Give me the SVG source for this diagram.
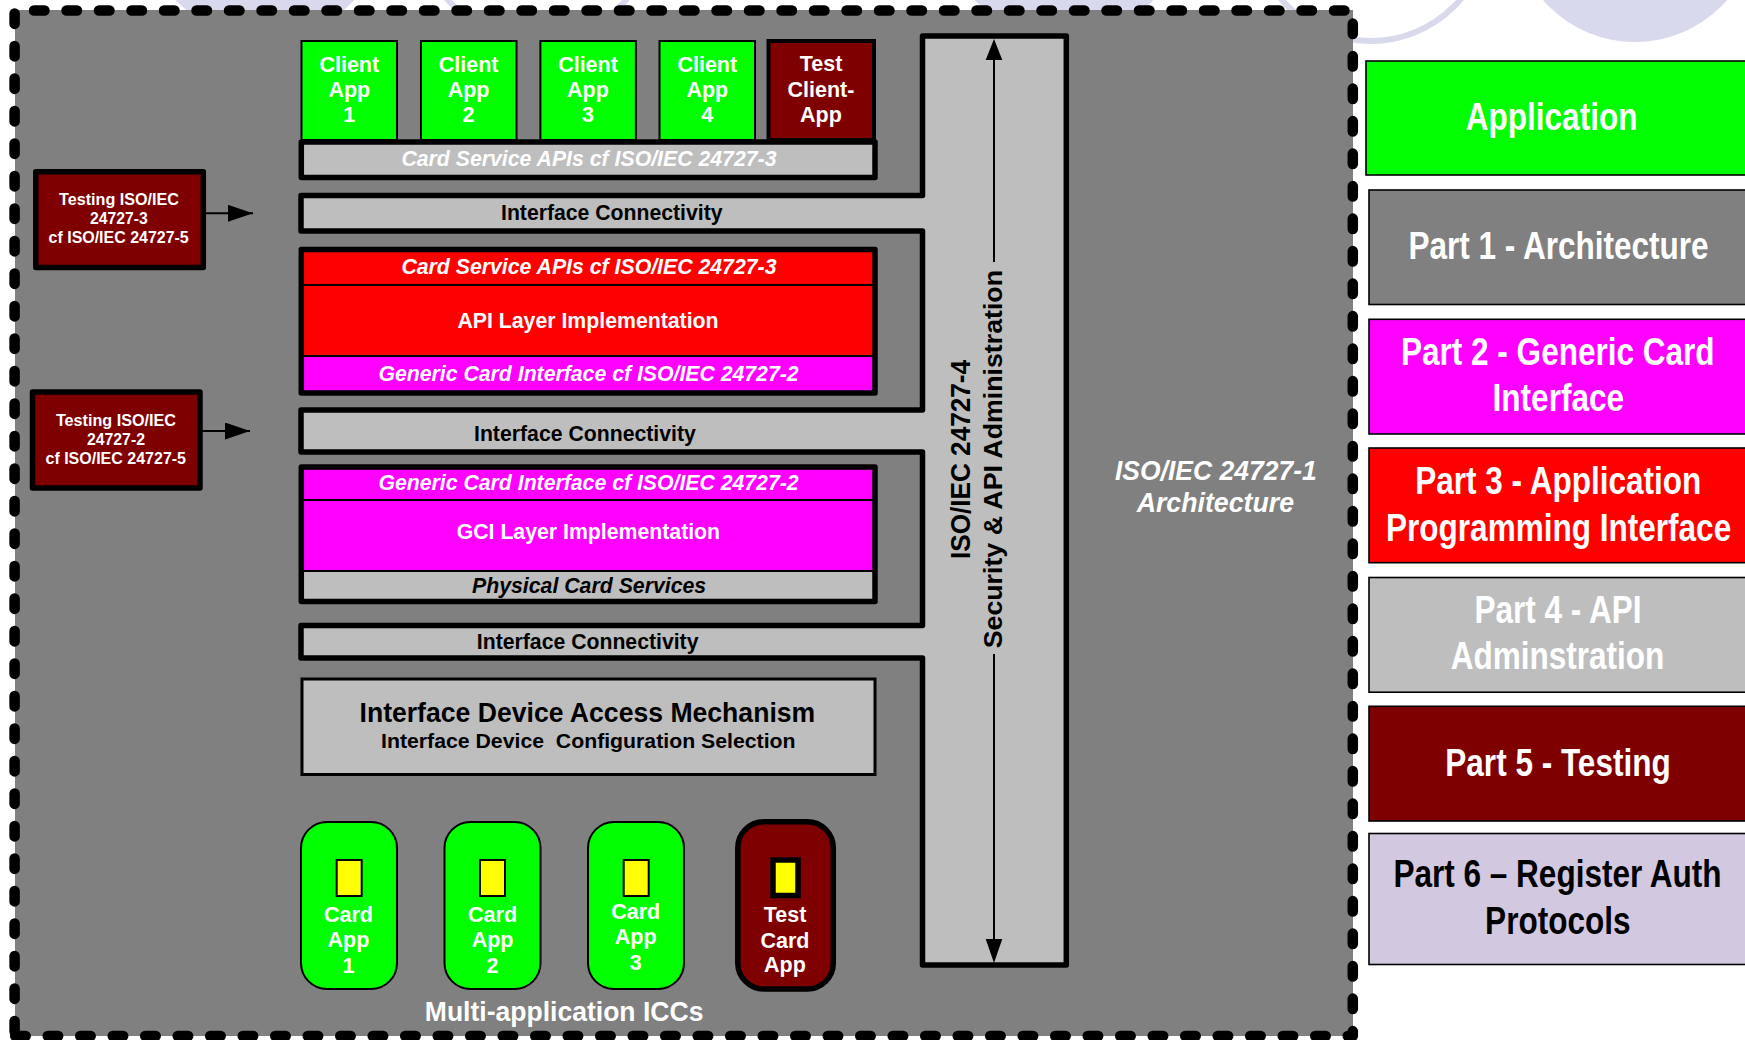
<svg xmlns="http://www.w3.org/2000/svg" width="1745" height="1040" viewBox="0 0 1745 1040">
<style>
text{font-family:"Liberation Sans",Arial,sans-serif;font-weight:bold;fill:#fff;white-space:pre}
.k{fill:#000}
.i{font-style:italic}
.m{text-anchor:middle}
.s21{font-size:21.5px}
.s16{font-size:16px}
.s38{font-size:38px}
.lav{fill:#d9d9ed;stroke:none}
.ring{fill:none;stroke:#d9d9ed;stroke-width:6}
.app{fill:#0f0;stroke:#000;stroke-width:2}
.card{fill:#0f0;stroke:#000;stroke-width:2}
.chip{fill:#ff0;stroke:#000;stroke-width:2}
.heavy{stroke:#000;stroke-width:5.5;stroke-linejoin:round}
.bar{fill:#bebebe}
.dark{fill:#7f0000}
.red{fill:#f00}
.mag{fill:#f0f}
.leg{stroke:#000;stroke-width:1.6}
.dash{fill:none;stroke:#000;stroke-width:10.5;stroke-linecap:round;stroke-dasharray:10.5 22}
.conn{stroke:#000;stroke-width:2;fill:none}
</style>
<defs>
<marker id="head" markerUnits="userSpaceOnUse" markerWidth="26" markerHeight="18" refX="25" refY="8.5" orient="auto"><path d="M0,0 L25,8.5 L0,17 Z" fill="#000"/></marker>
</defs>

<g id="background">
<circle class="lav" cx="265" cy="-83" r="122"/>
<circle class="ring" cx="537" cy="-76" r="117"/>
<circle class="lav" cx="1064" cy="-83" r="122"/>
<circle class="ring" cx="1371" cy="-76" r="117"/>
<circle class="lav" cx="1635" cy="-80" r="122"/>
</g>

<g id="architecture-frame">
<rect x="15" y="10" width="1338" height="1026" fill="#808080"/>
<path class="dash" d="M34,10.5 H1348"/>
<path class="dash" d="M14.6,13.4 V1036"/>
<path class="dash" d="M1352.8,23.6 V1036"/>
<path class="dash" d="M15.2,1036 H1352"/>
<text class="i" x="1115" y="480.3" font-size="27" textLength="201.7" lengthAdjust="spacingAndGlyphs">ISO/IEC 24727-1</text>
<text class="i" x="1136.7" y="511.7" font-size="27" textLength="157.3" lengthAdjust="spacingAndGlyphs">Architecture</text>
</g>

<g id="client-app-1"><rect class="app" x="301.5" y="41" width="95.5" height="99"/><text class="s21 m" x="349.3" y="71.7">Client</text><text class="s21 m" x="349.3" y="97.3">App</text><text class="s21 m" x="349.3" y="122.3">1</text></g>
<g id="client-app-2"><rect class="app" x="421" y="41" width="95.5" height="99"/><text class="s21 m" x="468.6" y="71.7">Client</text><text class="s21 m" x="468.6" y="97.3">App</text><text class="s21 m" x="468.6" y="122.3">2</text></g>
<g id="client-app-3"><rect class="app" x="540.4" y="41" width="95.5" height="99"/><text class="s21 m" x="588" y="71.7">Client</text><text class="s21 m" x="588" y="97.3">App</text><text class="s21 m" x="588" y="122.3">3</text></g>
<g id="client-app-4"><rect class="app" x="659.5" y="41" width="95.5" height="99"/><text class="s21 m" x="707.3" y="71.7">Client</text><text class="s21 m" x="707.3" y="97.3">App</text><text class="s21 m" x="707.3" y="122.3">4</text></g>
<g id="test-client-app"><rect class="dark" x="768.5" y="41" width="105.5" height="99" stroke="#000" stroke-width="4"/><text class="s21 m" x="821" y="71">Test</text><text class="s21 m" x="821" y="97.3">Client-</text><text class="s21 m" x="821" y="122.3">App</text></g>

<g id="card-service-bar"><rect class="bar heavy" x="301.3" y="142" width="573.7" height="35.5"/><text class="i" x="401.4" y="165.7" font-size="21.5" textLength="375.1" lengthAdjust="spacingAndGlyphs">Card Service APIs cf ISO/IEC 24727-3</text></g>

<g id="interface-connectivity">
<path class="bar heavy" d="M301,195.5 H922.5 V36 H1066.3 V965 H922.5 V658 H301 V625.5 H922.5 V452 H301 V410 H922.5 V231 H301 Z"/>
<text class="k" x="501" y="220" font-size="21.5" textLength="221.5" lengthAdjust="spacingAndGlyphs">Interface Connectivity</text>
<text class="k" x="474" y="440.7" font-size="21.5" textLength="221.8" lengthAdjust="spacingAndGlyphs">Interface Connectivity</text>
<text class="k" x="476.8" y="649.3" font-size="21.5" textLength="221.7" lengthAdjust="spacingAndGlyphs">Interface Connectivity</text>
<text class="k" transform="translate(970,559) rotate(-90)" font-size="28" textLength="199" lengthAdjust="spacingAndGlyphs">ISO/IEC 24727-4</text>
<text class="k" transform="translate(1001.7,648.3) rotate(-90)" font-size="26" textLength="378.3" lengthAdjust="spacingAndGlyphs">Security &amp; API Administration</text>
</g>

<g id="api-layer">
<rect class="red" x="301" y="249.5" width="574" height="107"/>
<rect class="mag" x="301" y="356" width="574" height="37"/>
<path d="M301,285 H875 M301,356 H875" stroke="#000" stroke-width="2" fill="none"/>
<rect x="301.3" y="249.5" width="573.7" height="143.5" fill="none" class="heavy"/>
<text class="i" x="401.4" y="274" font-size="21.5" textLength="375.1" lengthAdjust="spacingAndGlyphs">Card Service APIs cf ISO/IEC 24727-3</text>
<text x="457.4" y="328.3" font-size="21.5" textLength="261.2" lengthAdjust="spacingAndGlyphs">API Layer Implementation</text>
<text class="i" x="378.5" y="380.7" font-size="21.5" textLength="420.1" lengthAdjust="spacingAndGlyphs">Generic Card Interface cf ISO/IEC 24727-2</text>
</g>

<g id="gci-layer">
<rect class="mag" x="301" y="467" width="574" height="104"/>
<rect class="bar" x="301" y="571" width="574" height="30"/>
<path d="M301,500 H875 M301,571 H875" stroke="#000" stroke-width="2" fill="none"/>
<rect x="301.3" y="467" width="573.7" height="134.5" fill="none" class="heavy"/>
<text class="i" x="378.5" y="490" font-size="21.5" textLength="420.1" lengthAdjust="spacingAndGlyphs">Generic Card Interface cf ISO/IEC 24727-2</text>
<text x="456.7" y="539.3" font-size="21.5" textLength="263.4" lengthAdjust="spacingAndGlyphs">GCI Layer Implementation</text>
<text class="k i" x="472" y="593.3" font-size="21.5" textLength="234.2" lengthAdjust="spacingAndGlyphs">Physical Card Services</text>
</g>

<g id="interface-device">
<rect class="bar" x="302" y="679" width="573" height="95.5" stroke="#000" stroke-width="3"/>
<text class="k" x="359.5" y="721.7" font-size="27" textLength="455.7" lengthAdjust="spacingAndGlyphs">Interface Device Access Mechanism</text>
<text class="k" x="381" y="748.3" font-size="20" textLength="414.5" lengthAdjust="spacingAndGlyphs">Interface Device  Configuration Selection</text>
</g>

<g id="testing-part-3"><rect class="dark heavy" x="35.8" y="171.7" width="167.5" height="95.8"/><text class="s16" x="59" y="204.7" textLength="120" lengthAdjust="spacingAndGlyphs">Testing ISO/IEC</text><text class="s16" x="90" y="224" textLength="57.7" lengthAdjust="spacingAndGlyphs">24727-3</text><text class="s16" x="48.6" y="243" textLength="140.1" lengthAdjust="spacingAndGlyphs">cf ISO/IEC 24727-5</text></g>
<g id="testing-part-2"><rect class="dark heavy" x="32.5" y="392" width="167.5" height="96"/><text class="s16" x="55.9" y="426.3" textLength="120.1" lengthAdjust="spacingAndGlyphs">Testing ISO/IEC</text><text class="s16" x="86.9" y="445" textLength="58.1" lengthAdjust="spacingAndGlyphs">24727-2</text><text class="s16" x="45.5" y="464" textLength="140.5" lengthAdjust="spacingAndGlyphs">cf ISO/IEC 24727-5</text></g>

<g id="connectors">
<path class="conn" d="M205,213.3 H253" marker-end="url(#head)"/>
<path class="conn" d="M202,431 H250" marker-end="url(#head)"/>
<path d="M994,39 L985.7,60 H1002.3 Z M994,963 L985.7,939 H1002.3 Z" fill="#000"/>
<path class="conn" d="M994,55 V262 M994,654 V945"/>
</g>

<g id="card-app-1"><rect class="card" x="301" y="822" width="96" height="167" rx="26"/><rect class="chip" x="336.7" y="860" width="25" height="36"/><text class="s21 m" x="348.5" y="921.7">Card</text><text class="s21 m" x="348.5" y="947.2">App</text><text class="s21 m" x="348.5" y="972.7">1</text></g>
<g id="card-app-2"><rect class="card" x="444.5" y="822" width="96" height="167" rx="26"/><rect class="chip" x="480" y="860" width="25" height="36"/><text class="s21 m" x="492.6" y="921.7">Card</text><text class="s21 m" x="492.6" y="947.2">App</text><text class="s21 m" x="492.6" y="972.7">2</text></g>
<g id="card-app-3"><rect class="card" x="588" y="822" width="96" height="167" rx="26"/><rect class="chip" x="623.7" y="860" width="25" height="36"/><text class="s21 m" x="635.7" y="918.6">Card</text><text class="s21 m" x="635.7" y="944.3">App</text><text class="s21 m" x="635.7" y="969.8">3</text></g>
<g id="test-card-app"><rect class="dark heavy" x="737.8" y="821.8" width="95.5" height="167.2" rx="26"/><rect x="773" y="860" width="25" height="35.5" fill="#ff0" stroke="#000" stroke-width="5.5"/><text class="s21 m" x="785" y="921.7">Test</text><text class="s21 m" x="785" y="947.7">Card</text><text class="s21 m" x="785" y="972.2">App</text></g>
<text id="multi-app-label" x="424.8" y="1020.7" font-size="27" textLength="278.6" lengthAdjust="spacingAndGlyphs">Multi-application ICCs</text>

<g id="legend-application"><rect class="leg" x="1366" y="61" width="400" height="114" fill="#0f0"/><text class="s38 m" transform="translate(1551.6,130.3) scale(.83,1)">Application</text></g>
<g id="legend-part-1"><rect class="leg" x="1369" y="190" width="400" height="114.5" fill="#808080"/><text class="s38 m" transform="translate(1558.5,259.3) scale(.83,1)">Part 1 - Architecture</text></g>
<g id="legend-part-2"><rect class="leg" x="1369" y="319.3" width="400" height="114.7" fill="#f0f"/><text class="s38 m" transform="translate(1557.8,365.3) scale(.83,1)">Part 2 - Generic Card</text><text class="s38 m" transform="translate(1558.3,411) scale(.83,1)">Interface</text></g>
<g id="legend-part-3"><rect class="leg" x="1369" y="448" width="400" height="114.7" fill="#f00"/><text class="s38 m" transform="translate(1558.3,494.3) scale(.83,1)">Part 3 - Application</text><text class="s38 m" transform="translate(1558.6,540.7) scale(.83,1)">Programming Interface</text></g>
<g id="legend-part-4"><rect class="leg" x="1369" y="577.5" width="400" height="114.7" fill="#bebebe"/><text class="s38 m" transform="translate(1558,623.3) scale(.83,1)">Part 4 - API</text><text class="s38 m" transform="translate(1557.5,669) scale(.83,1)">Adminstration</text></g>
<g id="legend-part-5"><rect class="leg" x="1369" y="706.3" width="400" height="114.7" fill="#7f0000"/><text class="s38 m" transform="translate(1558,775.5) scale(.83,1)">Part 5 - Testing</text></g>
<g id="legend-part-6"><rect class="leg" x="1369" y="833.5" width="400" height="131" fill="#d2c9e0"/><text class="k s38 m" transform="translate(1557.5,887.2) scale(.83,1)">Part 6 – Register Auth</text><text class="k s38 m" transform="translate(1557.8,933.8) scale(.83,1)">Protocols</text></g>
</svg>
